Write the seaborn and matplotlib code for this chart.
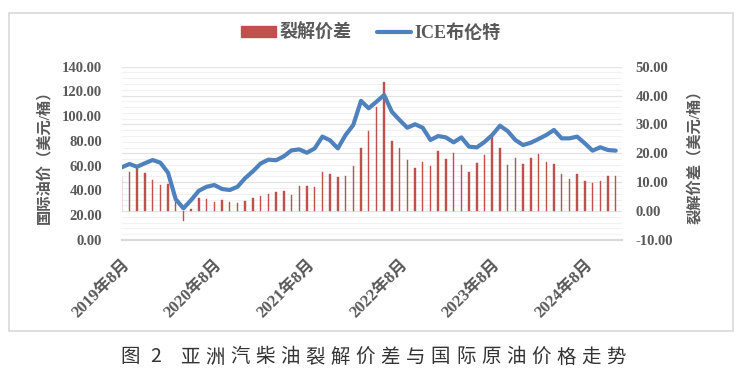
import numpy as np
import pandas as pd
import matplotlib
matplotlib.use('Agg')
import matplotlib.pyplot as plt
import seaborn as sns
from matplotlib.patches import Patch, Rectangle
from matplotlib.lines import Line2D
from matplotlib.ticker import FormatStrFormatter

# 2019年8月 .. 2024年12月, 月度数据
months = [f'{2019 + (7 + k) // 12}年{(7 + k) % 12 + 1}月' for k in range(65)]

brent = [58.7, 61.4, 59.2, 62.0, 64.6, 62.5, 54.4, 32.9, 25.6, 32.3,
         39.8, 43.0, 44.4, 41.2, 40.4, 43.0, 50.0, 55.5, 61.8, 64.9,
         64.4, 67.6, 72.4, 73.2, 70.5, 74.0, 83.5, 80.5, 74.0, 84.8,
         92.9, 112.4, 106.4, 111.7, 117.1, 103.6, 96.9, 90.7, 93.5, 90.7,
         80.8, 84.0, 82.9, 78.9, 82.9, 75.4, 74.8, 79.2, 84.8, 92.3,
         88.0, 80.8, 76.7, 78.6, 81.6, 84.8, 88.9, 82.1, 82.1, 83.5,
         78.1, 72.2, 74.9, 72.7, 72.2]

spread = [11.7, 13.4, 14.8, 13.3, 10.8, 9.0, 9.3, 3.3, -3.3, 0.8,
          4.6, 4.2, 3.2, 4.0, 3.3, 2.7, 3.6, 4.4, 5.2, 6.0,
          6.5, 6.9, 5.7, 8.8, 8.8, 8.2, 13.4, 12.9, 11.9, 12.3,
          15.6, 21.7, 27.8, 36.1, 44.8, 24.3, 21.9, 17.7, 14.8, 16.9,
          15.6, 20.8, 18.0, 20.2, 16.0, 13.6, 16.8, 19.4, 25.8, 21.9,
          16.0, 18.3, 16.2, 18.5, 19.8, 16.9, 16.3, 12.8, 11.1, 12.9,
          10.5, 9.8, 10.4, 12.1, 12.3]

tick_idx = [0, 12, 24, 36, 48, 60]
caption = '图 2 亚洲汽柴油裂解价差与国际原油价格走势'

df = pd.DataFrame({'idx': np.arange(len(months)), 'month': months,
                   'brent': brent, 'spread': spread})

sns.set_style('white')
plt.rcParams['font.family'] = ['Liberation Serif', 'Noto Sans CJK SC']
plt.rcParams['axes.unicode_minus'] = False

grey = '#595959'
red = '#c0504d'
blue = '#4f81bd'

fig = plt.figure(figsize=(7.42, 3.87), dpi=100)
W, H = 742, 387
ax1 = fig.add_axes([121.7 / W, (H - 240) / H, (621.5 - 121.7) / W, (240 - 66.7) / H])
ax2 = ax1.twinx()

# 柱: 裂解价差 (右轴)
sns.barplot(data=df, x='idx', y='spread', ax=ax2, native_scale=True, width=0.19,
            color=red, saturation=1, errorbar=None, linewidth=0.3, edgecolor=red)
# 线: ICE布伦特 (左轴)
sns.lineplot(data=df, x='idx', y='brent', ax=ax1, color=blue, linewidth=3)

ax1.set_zorder(2)
ax2.set_zorder(1)
ax1.patch.set_visible(False)

ax1.set_xlim(0, 64.75)
ax1.set_ylim(0, 140)
ax2.set_ylim(-10, 50)
ax1.set_yticks(np.arange(0, 141, 20))
ax2.set_yticks(np.arange(-10, 51, 10))
ax2.set_yticks(np.arange(-10, 51, 2), minor=True)
ax1.yaxis.set_major_formatter(FormatStrFormatter('%.2f'))
ax2.yaxis.set_major_formatter(FormatStrFormatter('%.2f'))

ax2.set_axisbelow(True)
ax2.grid(which='minor', axis='y', color='#f1f1f1', lw=0.8)
ax2.grid(which='major', axis='y', color='#e2e2e2', lw=0.9)
ax1.grid(False)

ax1.set_xticks(tick_idx)
ax1.set_xticklabels([months[i] for i in tick_idx], rotation=45, ha='right',
                    rotation_mode='anchor', fontsize=12, fontweight='bold', color=grey)
ax1.tick_params(axis='x', direction='out', length=4, color='#d9d9d9', pad=8)
ax1.tick_params(axis='y', length=0, labelsize=10.5, labelcolor=grey, pad=14)
ax2.tick_params(axis='y', which='both', length=0, labelsize=10.5, labelcolor=grey, pad=10)
for lab in ax1.get_yticklabels() + ax2.get_yticklabels():
    lab.set_fontweight('bold')

for s in ['left', 'right', 'top']:
    ax1.spines[s].set_visible(False)
for s in ax2.spines.values():
    s.set_visible(False)
ax1.spines['bottom'].set_color('#d9d9d9')
ax1.spines['bottom'].set_linewidth(1.5)

ax1.set_xlabel('')
ax2.set_xlabel('')
ax1.set_ylabel('国际油价（美元/桶）', fontsize=11, fontweight='bold', color=grey, labelpad=8)
ax2.set_ylabel('裂解价差（美元/桶）', fontsize=11, fontweight='bold', color=grey,
               rotation=90, labelpad=10)

handles = [Patch(facecolor=red, edgecolor=red),
           Line2D([0], [0], color=blue, lw=3)]
fig.legend(handles, ['裂解价差', 'ICE布伦特'], loc='center', bbox_to_anchor=(0.5, 0.915),
           ncol=2, frameon=False, handlelength=1.9, handleheight=0.6, columnspacing=1.4,
           handletextpad=0.2, prop={'size': 13, 'weight': 'bold'}, labelcolor=grey)

fig.add_artist(Rectangle((9 / W, 1 - 331 / H), (733 - 9) / W, (331 - 13) / H,
                         transform=fig.transFigure, fill=False, ec='#d9d9d9', lw=1.2))

# 图题, 字间距较宽
xs = [126, 152] + [186 + 25.06 * k for k in range(18)]
chars = [c for c in caption if c != ' ']
for c, x in zip(chars, xs):
    fig.text((x + 4) / W, 1 - 357 / H, c, ha='center', va='center', fontsize=14,
             family=['Noto Sans CJK SC', 'DejaVu Sans'], color='#333333')

fig.savefig('out.png', dpi=100, facecolor='white')
